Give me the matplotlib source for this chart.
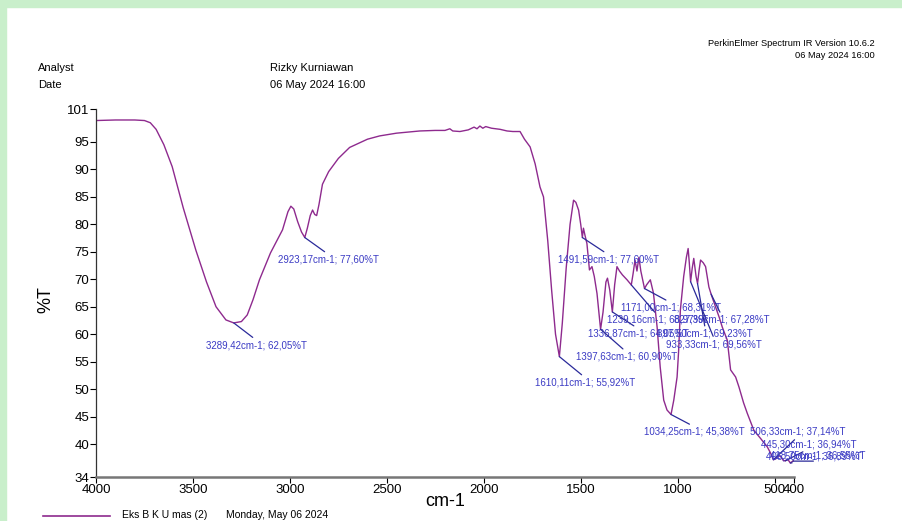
import numpy as np
import matplotlib.pyplot as plt
from matplotlib.patches import Rectangle

plt.rcParams['font.family'] = ['Liberation Sans', 'DejaVu Sans']

# Спектр: волновое число (cm-1) и пропускание (%T)
wavenumber = [4000, 3900, 3800, 3750, 3720, 3690, 3650, 3607, 3550, 3485, 3430, 3381,
              3330, 3289.42, 3250, 3220, 3190, 3157, 3100, 3038, 3010, 2995, 2980, 2960,
              2940, 2923.17, 2910, 2895, 2883, 2872, 2862, 2850, 2832, 2800, 2750, 2692,
              2600, 2537, 2450, 2330, 2250, 2200, 2175, 2160, 2123, 2080, 2050, 2035,
              2020, 2005, 1990, 1960, 1916, 1880, 1850, 1813, 1790, 1761, 1735, 1710,
              1692, 1670, 1650, 1630, 1610.11, 1595, 1575, 1555, 1537, 1525, 1511, 1500,
              1491.59, 1486, 1478, 1468, 1455, 1442, 1430, 1416, 1397.63, 1385, 1370,
              1362, 1350, 1336.87, 1325, 1313, 1300, 1285, 1261, 1239.16, 1230, 1220,
              1210, 1200, 1190, 1171.00, 1160, 1141, 1125, 1106, 1090, 1072, 1055,
              1034.25, 1020, 1003, 995, 986, 969, 955, 946, 940, 933.33, 925, 917, 905,
              897.50, 890, 882, 868, 856, 839, 827.39, 815, 800, 785, 770, 744, 727, 701,
              684, 660, 641, 607, 572, 538, 520, 506.33, 494, 480, 468, 455, 445.30, 432,
              418.75, 406.50, 400]
transmittance = [98.9, 99.0, 99.0, 98.9, 98.5, 97.3, 94.5, 90.5, 83.0, 75.3, 69.5, 65.0,
                 62.6, 62.05, 62.3, 63.5, 66.3, 69.9, 74.8, 79.0, 82.3, 83.3, 82.8, 80.5,
                 78.6, 77.60, 79.3, 81.6, 82.6, 81.8, 81.6, 83.6, 87.3, 89.6, 92.0, 94.0,
                 95.5, 96.1, 96.6, 97.0, 97.1, 97.1, 97.4, 97.0, 96.9, 97.2, 97.7, 97.4,
                 97.9, 97.5, 97.8, 97.5, 97.3, 97.0, 96.9, 96.9, 95.5, 94.1, 91.0, 86.8,
                 85.0, 77.0, 68.0, 60.0, 55.92, 62.0, 72.0, 80.0, 84.4, 84.0, 82.6, 80.0,
                 77.60, 79.3, 78.0, 76.5, 71.7, 72.3, 70.5, 67.4, 60.90, 64.0, 69.5,
                 70.2, 68.0, 64.05, 69.0, 72.3, 71.5, 70.8, 69.9, 68.97, 71.0, 73.5,
                 71.5, 74.0, 71.5, 68.31, 69.0, 69.9, 67.5, 61.3, 54.0, 48.0, 46.2,
                 45.38, 48.0, 52.2, 57.0, 64.4, 70.5, 74.0, 75.6, 73.0, 69.56, 72.0, 73.8, 70.5,
                 69.23, 71.5, 73.5, 73.0, 72.3, 68.6, 67.28, 66.0, 64.5, 63.0, 61.3, 58.9, 53.5, 52.2,
                 50.4, 47.5, 45.6, 42.5, 41.0, 39.5, 38.3, 37.14, 37.3, 37.9, 37.7, 37.0, 36.94, 37.2,
                 36.55, 36.89, 37.0]

# Отмеченные пики
peak_wn = [3289.42, 2923.17, 1491.59, 1171.00, 1239.16, 1336.87, 1397.63, 1610.11,
           933.33, 827.39, 897.50, 1034.25, 506.33, 445.30, 406.50, 418.75]
peak_t = [62.05, 77.60, 77.60, 68.31, 68.97, 64.05, 60.90, 55.92,
          69.56, 67.28, 69.23, 45.38, 37.14, 36.94, 36.89, 36.55]
peak_labels = ['3289,42cm-1; 62,05%T', '2923,17cm-1; 77,60%T', '1491,59cm-1; 77,60%T',
               '1171,00cm-1; 68,31%T', '1239,16cm-1; 68,97%T', '1336,87cm-1; 64,05%T',
               '1397,63cm-1; 60,90%T', '1610,11cm-1; 55,92%T', '933,33cm-1; 69,56%T',
               '827,39cm-1; 67,28%T', '897,50cm-1; 69,23%T', '1034,25cm-1; 45,38%T',
               '506,33cm-1; 37,14%T', '445,30cm-1; 36,94%T', '406,50cm-1; 36,89%T',
               '418,75cm-1; 36,55%T']
# где стоят подписи (центр текста, в координатах графика)
label_pos = [(3173, 58.0), (2801, 73.6), (1359, 73.6), (1034, 64.8), (1106, 62.6),
             (1204, 60.1), (1266, 55.9), (1478, 51.2), (811, 58.2), (775, 62.6),
             (858, 60.1), (912, 42.2), (382, 42.2), (326, 40.0), (300, 37.8), (279, 38.0)]

x_ticks = [4000, 3500, 3000, 2500, 2000, 1500, 1000, 500, 400]
y_ticks = [101, 95, 90, 85, 80, 75, 70, 65, 60, 55, 50, 45, 40, 34]

fig = plt.figure(figsize=(9.02, 5.21), dpi=100)
fig.patches.append(Rectangle((0, 1 - 7 / 521), 1, 7 / 521, transform=fig.transFigure,
                             color='#c9efcb', zorder=0))
fig.patches.append(Rectangle((0, 0), 6 / 902, 1, transform=fig.transFigure,
                             color='#c9efcb', zorder=0))

ax = fig.add_axes([96 / 902, 1 - 477 / 521, (794 - 96) / 902, (477 - 109) / 521])
ax.plot(wavenumber, transmittance, color='#8e2a8e', linewidth=1.0)

for wn, t, lab, (tx, ty) in zip(peak_wn, peak_t, peak_labels, label_pos):
    rel = (0.5, 1.0) if ty < t else (0.5, 0.0)
    ax.annotate(lab, xy=(wn, t), xytext=(tx, ty), ha='center', va='center',
                fontsize=7, color='#3b3bc4', annotation_clip=False,
                arrowprops=dict(arrowstyle='-', color='#2a2a9a', lw=0.9,
                                relpos=rel, shrinkA=0, shrinkB=0))

ax.set_xlim(4000, 400)
ax.set_ylim(34, 101)
ax.set_xticks(x_ticks)
ax.set_xticklabels([str(v) for v in x_ticks])
ax.set_yticks(y_ticks)
ax.tick_params(labelsize=9.5, length=4, width=0.8, pad=1)
ax.spines['top'].set_visible(False)
ax.spines['right'].set_visible(False)
ax.spines['bottom'].set_color('#777777')
ax.spines['bottom'].set_linewidth(1.8)
ax.spines['left'].set_color('#333333')
ax.spines['left'].set_linewidth(0.9)

# Подписи осей
fig.text(445 / 902, 1 - 501 / 521, 'cm-1', ha='center', va='center', fontsize=13)
fig.text(46 / 902, 1 - 300 / 521, '%T', ha='center', va='center', fontsize=13, rotation=90)

# Шапка
fig.text(38 / 902, 1 - 68 / 521, 'Analyst', fontsize=8, va='center')
fig.text(38 / 902, 1 - 85 / 521, 'Date', fontsize=8, va='center')
fig.text(270 / 902, 1 - 68 / 521, 'Rizky Kurniawan', fontsize=8, va='center')
fig.text(270 / 902, 1 - 85 / 521, '06 May 2024 16:00', fontsize=8, va='center')
fig.text(875 / 902, 1 - 44 / 521, 'PerkinElmer Spectrum IR Version 10.6.2', fontsize=6.7,
         ha='right', va='center')
fig.text(875 / 902, 1 - 55 / 521, '06 May 2024 16:00', fontsize=6.7, ha='right', va='center')

# Легенда внизу
fig.add_artist(plt.Line2D([43 / 902, 110 / 902], [1 - 516 / 521, 1 - 516 / 521],
                          color='#8e2a8e', linewidth=1.2, transform=fig.transFigure))
fig.text(122 / 902, 1 - 515 / 521, 'Eks B K U mas (2)', fontsize=7.5, va='center')
fig.text(226 / 902, 1 - 515 / 521, 'Monday, May 06 2024', fontsize=7.5, va='center')

fig.savefig('out.png', dpi=100)
